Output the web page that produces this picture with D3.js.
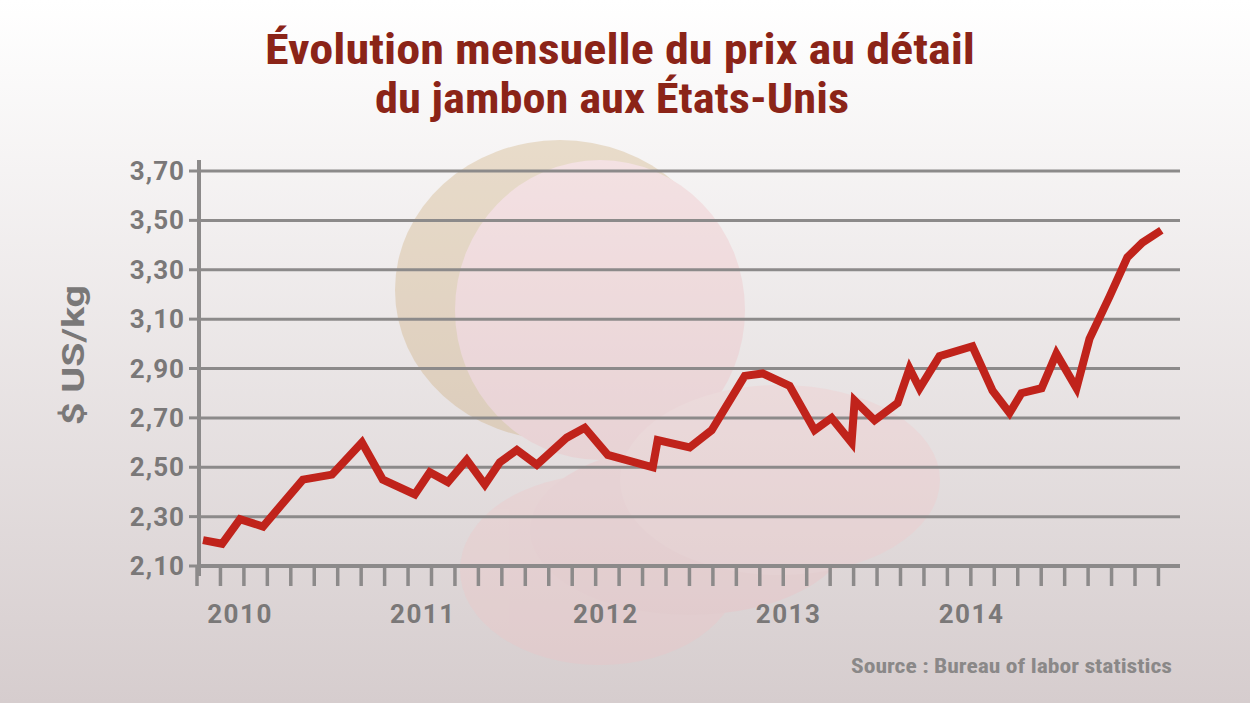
<!DOCTYPE html>
<html><head><meta charset="utf-8">
<script src="https://cdn.jsdelivr.net/npm/d3@7"></script>
<style>body{margin:0;overflow:hidden}</style>
</head><body><div></div>
<script>
// years since start of 2010
const T = [-0.202,-0.098,0,0.126,0.344,0.503,0.667,0.781,0.956,1.038,1.137,1.240,1.339,1.421,1.514,1.623,1.787,1.885,2.011,2.257,2.284,2.459,2.579,2.760,2.858,3.005,3.104,3.142,3.235,3.344,3.361,3.470,3.596,3.661,3.716,3.825,4.005,4.115,4.208,4.273,4.383,4.464,4.574,4.645,4.754,4.852,4.934,5.038];
const PRICE = [2.205,2.19,2.29,2.26,2.45,2.47,2.60,2.45,2.39,2.48,2.44,2.53,2.43,2.52,2.57,2.51,2.62,2.66,2.55,2.50,2.61,2.58,2.65,2.87,2.88,2.83,2.70,2.65,2.70,2.60,2.77,2.69,2.76,2.90,2.82,2.95,2.99,2.81,2.72,2.80,2.82,2.96,2.82,3.02,3.19,3.35,3.41,3.46];
const Y_TICKS = [2.10,2.30,2.50,2.70,2.90,3.10,3.30,3.50,3.70];
const YEARS = [2010,2011,2012,2013,2014];
const W = 1250, H = 703;
const font = "'Liberation Sans Narrow','Roboto Condensed','Arial Narrow',sans-serif";
const tickFont = "Roboto,'Liberation Sans',sans-serif";

const svg = d3.select('div').append('svg').attr('width', W).attr('height', H);
const defs = svg.append('defs');
const grad = defs.append('linearGradient').attr('id', 'bg').attr('x1', 0).attr('x2', 0).attr('y1', 0).attr('y2', 1);
grad.append('stop').attr('offset', '0%').attr('stop-color', '#ffffff');
grad.append('stop').attr('offset', '100%').attr('stop-color', '#d6cdce');
svg.append('rect').attr('width', W).attr('height', H).attr('fill', 'url(#bg)');

// faint ham shapes
const ham = svg.append('g').attr('opacity', 0.3);
ham.append('ellipse').attr('cx', 560).attr('cy', 290).attr('rx', 165).attr('ry', 150).attr('fill', '#c9a36a');
ham.append('ellipse').attr('cx', 600).attr('cy', 310).attr('rx', 145).attr('ry', 150).attr('fill', '#f0b8bd');
ham.append('ellipse').attr('cx', 600).attr('cy', 570).attr('rx', 140).attr('ry', 95).attr('fill', '#f2c2c4');
ham.append('ellipse').attr('cx', 690).attr('cy', 530).attr('rx', 160).attr('ry', 85).attr('fill', '#f0bcc0');
ham.append('ellipse').attr('cx', 780).attr('cy', 480).attr('rx', 160).attr('ry', 95).attr('fill', '#f4c6c8');

const x = d3.scaleLinear().domain([-0.235, 5.14]).range([197, 1180]);
const y = d3.scaleLinear().domain([2.10, 3.70]).range([566, 171]);

// gridlines
svg.append('g').selectAll('line').data(Y_TICKS.slice(1)).join('line')
    .attr('x1', 199).attr('x2', 1180)
    .attr('y1', d => y(d)).attr('y2', d => y(d))
    .attr('stroke', '#8c8a8a').attr('stroke-width', 3);

// y axis
svg.append('line').attr('x1', 199).attr('x2', 199).attr('y1', 160).attr('y2', 576)
    .attr('stroke', '#8c8a8a').attr('stroke-width', 4);
svg.append('g').selectAll('line').data(Y_TICKS).join('line')
    .attr('x1', 189).attr('x2', 199).attr('y1', d => y(d)).attr('y2', d => y(d))
    .attr('stroke', '#8c8a8a').attr('stroke-width', 3);
svg.append('g').selectAll('text').data(Y_TICKS).join('text')
    .attr('x', 185).attr('y', d => y(d) + 9).attr('text-anchor', 'end')
    .attr('font-family', tickFont).attr('font-weight', 'bold').attr('font-size', 26)
    .attr('letter-spacing', 1)
    .attr('fill', '#7a7878').text(d => d3.format('.2f')(d).replace('.', ','));

// x axis
svg.append('line').attr('x1', 197).attr('x2', 1180).attr('y1', 566).attr('y2', 566)
    .attr('stroke', '#8c8a8a').attr('stroke-width', 4);
const xt = d3.range(0, 42).map(i => x.invert(197 + i * 23.45));
svg.append('g').selectAll('line').data(xt).join('line')
    .attr('x1', d => x(d)).attr('x2', d => x(d)).attr('y1', 566).attr('y2', 586)
    .attr('stroke', '#8c8a8a').attr('stroke-width', 3.5);
svg.append('g').selectAll('text').data(YEARS).join('text')
    .attr('x', d => x(d - 2010)).attr('y', 623).attr('text-anchor', 'middle')
    .attr('font-family', tickFont).attr('font-weight', 'bold').attr('font-size', 26)
    .attr('letter-spacing', 1.5)
    .attr('fill', '#7a7878').text(d => d);

// line
const line = d3.line().x(d => x(d[0])).y(d => y(d[1]));
svg.append('path').datum(T.map((t, i) => [t, PRICE[i]]))
    .attr('d', line).attr('fill', 'none').attr('stroke', '#c0231b')
    .attr('stroke-width', 8).attr('stroke-linejoin', 'miter');

// titles
svg.append('text').attr('x', 84).attr('y', 355).attr('transform', 'rotate(-90,84,355)')
    .attr('text-anchor', 'middle').attr('font-family', tickFont).attr('font-weight', 'bold')
    .attr('font-size', 32).attr('textLength', 140).attr('lengthAdjust', 'spacingAndGlyphs')
    .attr('fill', '#7a7878').text('$ US/kg');
const title = svg.append('text').attr('text-anchor', 'middle').attr('font-family', font)
    .attr('font-weight', 'bold').attr('font-size', 42).attr('fill', '#8b2418');
title.append('tspan').attr('x', 620).attr('y', 64).attr('textLength', 710)
    .attr('lengthAdjust', 'spacingAndGlyphs').text('Évolution mensuelle du prix au détail');
title.append('tspan').attr('x', 612).attr('y', 113).attr('textLength', 474)
    .attr('lengthAdjust', 'spacingAndGlyphs').text('du jambon aux États-Unis');
svg.append('text').attr('x', 1172).attr('y', 673).attr('text-anchor', 'end')
    .attr('font-family', font).attr('font-weight', 'bold').attr('font-size', 21)
    .attr('textLength', 321).attr('lengthAdjust', 'spacingAndGlyphs')
    .attr('fill', '#8a8888').text('Source : Bureau of labor statistics');
</script>
</body></html>
